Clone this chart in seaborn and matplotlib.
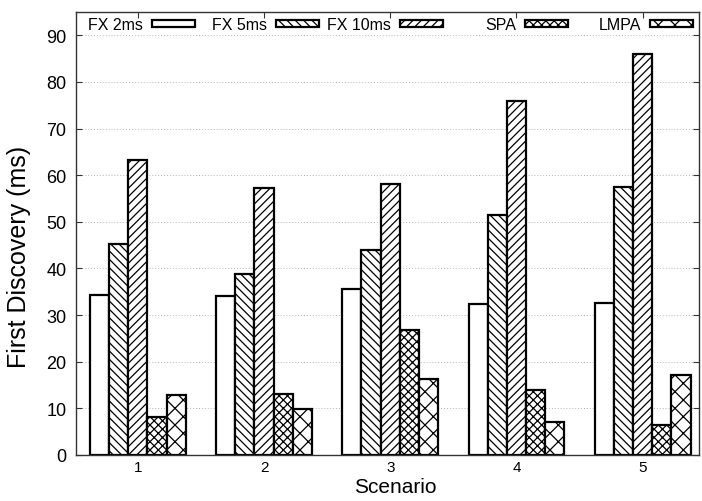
import matplotlib
matplotlib.use("Agg")
import matplotlib.pyplot as plt
from matplotlib.legend import Legend
import seaborn as sns
import pandas as pd

scenarios = ["1", "2", "3", "4", "5"]
series = ["FX 2ms", "FX 5ms", "FX 10ms", "SPA", "LMPA"]
fx2 = [34.3, 34.1, 35.5, 32.3, 32.6]
fx5 = [45.3, 38.8, 43.9, 51.4, 57.5]
fx10 = [63.2, 57.2, 58.2, 75.9, 86.1]
spa = [8.1, 13.1, 26.9, 13.9, 6.4]
lmpa = [12.8, 9.85, 16.4, 7.1, 17.2]
yticks = [0, 10, 20, 30, 40, 50, 60, 70, 80, 90]

values = [fx2, fx5, fx10, spa, lmpa]
rows = []
for s, vals in zip(series, values):
    for sc, v in zip(scenarios, vals):
        rows.append({"Scenario": sc, "Series": s, "value": v})
df = pd.DataFrame(rows)

sns.set_theme(style="white")
plt.rcParams["font.family"] = ["Liberation Sans", "DejaVu Sans"]
plt.rcParams["hatch.linewidth"] = 0.9
plt.rcParams["text.color"] = "black"
plt.rcParams["axes.labelcolor"] = "black"
plt.rcParams["xtick.color"] = "black"
plt.rcParams["ytick.color"] = "black"

fig = plt.figure(figsize=(7.02, 5.02), dpi=100)
W, H = 702, 502
L, R, T, B = 76, 699, 13, 456
ax = fig.add_axes([L / W, 1 - B / H, (R - L) / W, (B - T) / H])

sns.barplot(data=df, x="Scenario", y="value", hue="Series", order=scenarios,
            hue_order=series, palette=["white"] * 5, saturation=1,
            width=0.76, edgecolor="black", linewidth=1.6, legend=False, ax=ax)

hatches = [None, "\\\\\\\\", "////", "xxxx", "xx"]
for cont, h in zip(ax.containers, hatches):
    for p in cont:
        p.set_facecolor("white")
        p.set_edgecolor("black")
        if h:
            p.set_hatch(h)

ax.set_xlim(-0.49, 4.446)
ax.set_ylim(0, 95)
ax.set_yticks(yticks)
ax.grid(axis="y", color="#b5b5b5", linestyle=(0, (1, 2)), linewidth=0.7)
ax.set_axisbelow(True)
for sp in ax.spines.values():
    sp.set_visible(True)
    sp.set_color("#333333")
    sp.set_linewidth(1.0)

ax.tick_params(axis="y", direction="in", length=4.3, width=0.8, color="#333333",
               left=True, right=True, labelsize=13, pad=7, labelcolor="black")
ax.tick_params(axis="x", direction="in", length=4.3, width=0.8, color="#333333",
               bottom=False, top=True, labelsize=11, pad=3.5, labelcolor="black")

ax.set_xlabel("Scenario", fontsize=15, color="black")
ax.set_ylabel("First Discovery (ms)", fontsize=18, color="black")
ax.xaxis.set_label_coords(0.513, -0.0497)
ax.yaxis.set_label_coords(-0.072, 0.45)

# legend: one entry per box, evenly spaced like the reference key
right_edges = [195, 319, 443, 568, 693]
for i, (cont, lab) in enumerate(zip(ax.containers, series)):
    leg = Legend(ax, [cont[0]], [lab], loc="center right",
                 bbox_to_anchor=(right_edges[i] / W, 1 - 26 / H),
                 bbox_transform=fig.transFigure, frameon=False,
                 markerfirst=False, fontsize=11.5, handlelength=2.7,
                 handleheight=0.32, handletextpad=0.55, borderpad=0,
                 borderaxespad=0)
    for t in leg.get_texts():
        t.set_color("black")
    ax.add_artist(leg)

fig.savefig("out.png", dpi=100)
